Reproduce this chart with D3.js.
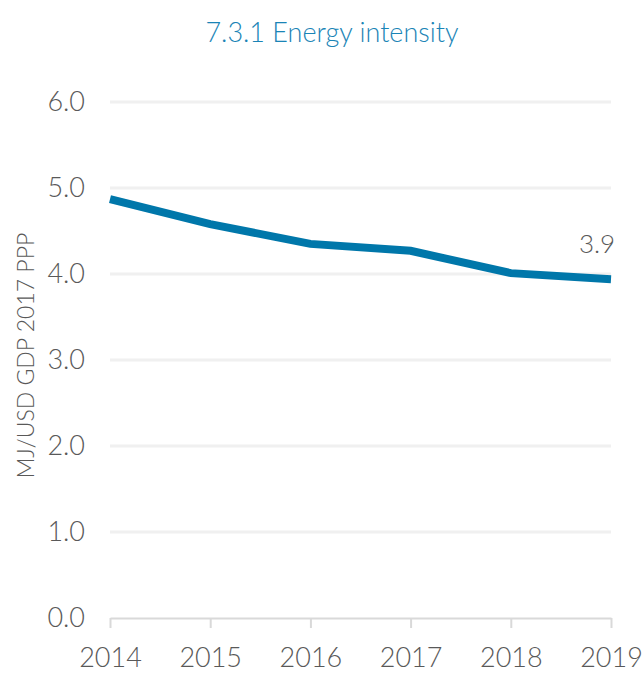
<!DOCTYPE html>
<html>
<head>
<meta charset="utf-8">
<script src="https://cdn.jsdelivr.net/npm/d3@7"></script>
<style>
  body { margin: 0; background: #fff; }
  svg text { font-family: Lato, "Open Sans", sans-serif; font-weight: 300; }
</style>
</head>
<body>
<div id="chart"></div>
<script>
// 7.3.1 Energy intensity — line chart
const years = [2014, 2015, 2016, 2017, 2018, 2019];
const intensity = [4.87, 4.58, 4.35, 4.27, 4.01, 3.94];
const yTicks = [0, 1, 2, 3, 4, 5, 6];

const width = 643, height = 673;
const margin = { top: 102, right: 32, bottom: 55, left: 110 };

const svg = d3.select("#chart").append("svg")
  .attr("width", width)
  .attr("height", height);

const x = d3.scalePoint()
  .domain(years)
  .range([margin.left, width - margin.right]);

const y = d3.scaleLinear()
  .domain([0, 6])
  .range([height - margin.bottom, margin.top]);

// ── Title ──
svg.append("text")
  .attr("x", 332).attr("y", 42)
  .attr("text-anchor", "middle")
  .style("font-size", "27px")
  .style("fill", "#1a84b6")
  .text("7.3.1 Energy intensity");

// ── Gridlines ──
svg.append("g")
  .selectAll("line")
  .data(yTicks.filter(d => d > 0))
  .join("line")
  .attr("x1", margin.left).attr("x2", width - margin.right)
  .attr("y1", d => y(d)).attr("y2", d => y(d))
  .attr("stroke", "#f0f0f0")
  .attr("stroke-width", 3);

// ── Y axis labels ──
svg.append("g")
  .selectAll("text")
  .data(yTicks)
  .join("text")
  .attr("x", 85)
  .attr("y", d => y(d))
  .attr("dy", "0.35em")
  .attr("text-anchor", "end")
  .style("font-size", "27px")
  .style("fill", "#595959")
  .text(d => d3.format(".1f")(d));

svg.append("text")
  .attr("transform", `translate(34, ${y(3.05)}) rotate(-90)`)
  .attr("text-anchor", "middle")
  .style("font-size", "23px")
  .style("fill", "#595959")
  .text("MJ/USD GDP 2017 PPP");

// ── X axis ──
const xAxis = svg.append("g")
  .attr("transform", `translate(0, ${y(0)})`)
  .call(d3.axisBottom(x).tickSize(10).tickPadding(20).tickSizeOuter(0));
xAxis.select(".domain").attr("stroke", "#d9d9d9").attr("stroke-width", 2);
xAxis.selectAll(".tick line").attr("stroke", "#d9d9d9").attr("stroke-width", 2);
xAxis.selectAll(".tick text")
  .style("font-family", "Lato, 'Open Sans', sans-serif")
  .style("font-weight", 300)
  .style("font-size", "27px")
  .style("fill", "#595959");

// ── Line ──
const line = d3.line()
  .x((d, i) => x(years[i]))
  .y(d => y(d));

svg.append("path")
  .datum(intensity)
  .attr("d", line)
  .attr("fill", "none")
  .attr("stroke", "#0077aa")
  .attr("stroke-width", 8);

// ── End label ──
const last = intensity.length - 1;
svg.append("text")
  .attr("x", x(years[last]) - 14)
  .attr("y", y(intensity[last]) - 26)
  .attr("text-anchor", "middle")
  .style("font-size", "26px")
  .style("fill", "#595959")
  .text(d3.format(".1f")(intensity[last]));
</script>
</body>
</html>
